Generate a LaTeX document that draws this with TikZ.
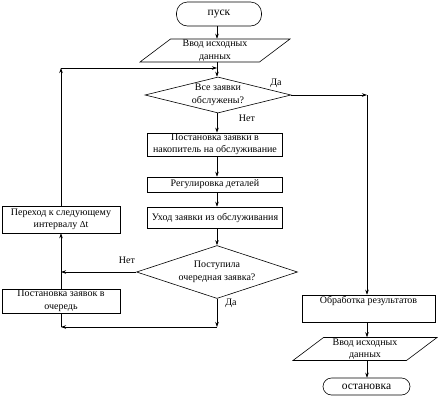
\documentclass[tikz,border=0pt]{standalone}
\usepackage{fontspec}
\setmainfont{Liberation Serif}
\usetikzlibrary{shapes.geometric,arrows.meta}
\begin{document}
\begin{tikzpicture}[x=1pt,y=-1pt,
  every node/.style={font=\fontsize{10}{12.5}\selectfont, align=center, inner sep=1pt},
  box/.style={draw, rectangle, line width=0.6pt},
  term/.style={draw, rectangle, line width=0.6pt, font=\fontsize{11.5}{13}\selectfont},
  io/.style={draw, trapezium, trapezium left angle=37, trapezium right angle=143,
    trapezium stretches body, line width=0.6pt},
  dec/.style={draw, diamond, inner sep=0pt, line width=0.6pt},
  arr/.style={line width=0.6pt, -{Stealth[length=5pt,width=3.5pt]}},
  ln/.style={line width=0.6pt},
  lab/.style={font=\fontsize{10}{11}\selectfont, inner sep=0pt}
]
\useasboundingbox (0,0) rectangle (442,402);

% main column
\node[term, rounded corners=11pt, minimum width=85, minimum height=24] (start) at (219,14) {пуск};
\node[io, minimum width=150, minimum height=23] (in1) at (215,50.5) {Ввод исходных\\данных};
\node[dec, aspect=4.2, minimum width=146, minimum height=36] (d1) at (218,95) {Все заявки\\обслужены?};
\node[box, minimum width=135, minimum height=23] (b1) at (215,144.5) {Постановка заявки в\\накопитель на обслуживание};
\node[box, minimum width=135, minimum height=15] (b2) at (215,184.5) {Регулировка деталей};
\node[box, minimum width=135, minimum height=21] (b3) at (215,217.5) {Уход заявки из обслуживания};
\node[dec, aspect=3.2, minimum width=161, minimum height=53] (d2) at (217,272) {Поступила\\очередная заявка?};

% left column
\node[box, minimum width=118, minimum height=27] (next) at (61,219.5) {Переход к следующему\\интервалу {\small Δ}t};
\node[box, minimum width=118, minimum height=24] (queue) at (61,301) {Постановка заявок в\\очередь};

% right column
\node[box, minimum width=133, text height=7pt, text depth=17pt, inner sep=1.5pt] (proc) at (368.5,308.5) {Обработка результатов};
\node[io, minimum width=144, minimum height=22] (in2) at (365,349) {Ввод исходных\\данных};
\node[term, rounded corners=8.5pt, minimum width=87, minimum height=17] (stop) at (366.5,386.5) {остановка};

% helper coordinates
\coordinate (cL) at (61,68);
\coordinate (j1) at (217,68);
\coordinate (cR) at (367,95);
\coordinate (j2) at (217,327);
\coordinate (cB) at (61,327);
\coordinate (cN) at (61,272);

% connectors
\draw[arr] (start.south -| j1) -- (in1.north -| j1);
\draw[ln] (in1.south -| j1) -- (j1);
\draw[arr] (j1) -- (d1.north -| j1);
\draw[arr] (d1.south -| j1) -- (b1.north -| j1);
\draw[arr] (b1.south -| j1) -- (b2.north -| j1);
\draw[arr] (b2.south -| j1) -- (b3.north -| j1);
\draw[arr] (b3.south -| j1) -- (d2.north);

\draw[arr] (d1.east) -- (cR);
\draw[arr] (cR) -- (cR |- proc.north);
\draw[arr] (proc.south -| cR) -- (in2.north -| cR);
\draw[arr] (in2.south -| cR) -- (stop.north -| cR);

\draw[arr] (d2.west) -- (cN);
\draw[arr] (d2.south) -- (j2);
\draw[arr] (j2) -- (cB);
\draw[ln] (cB) -- (queue.south);
\draw[arr] (queue.north) -- (next.south);
\draw[arr] (next.north) -- (cL);
\draw[arr] (cL) -- (j1);

% labels
\node[lab] (lda1) at (276,83) {Да};
\node[lab] (lnet1) at (247,118) {Нет};
\node[lab] (lnet2) at (127,260) {Нет};
\node[lab] (lda2) at (231,303) {Да};
\end{tikzpicture}
\end{document}
